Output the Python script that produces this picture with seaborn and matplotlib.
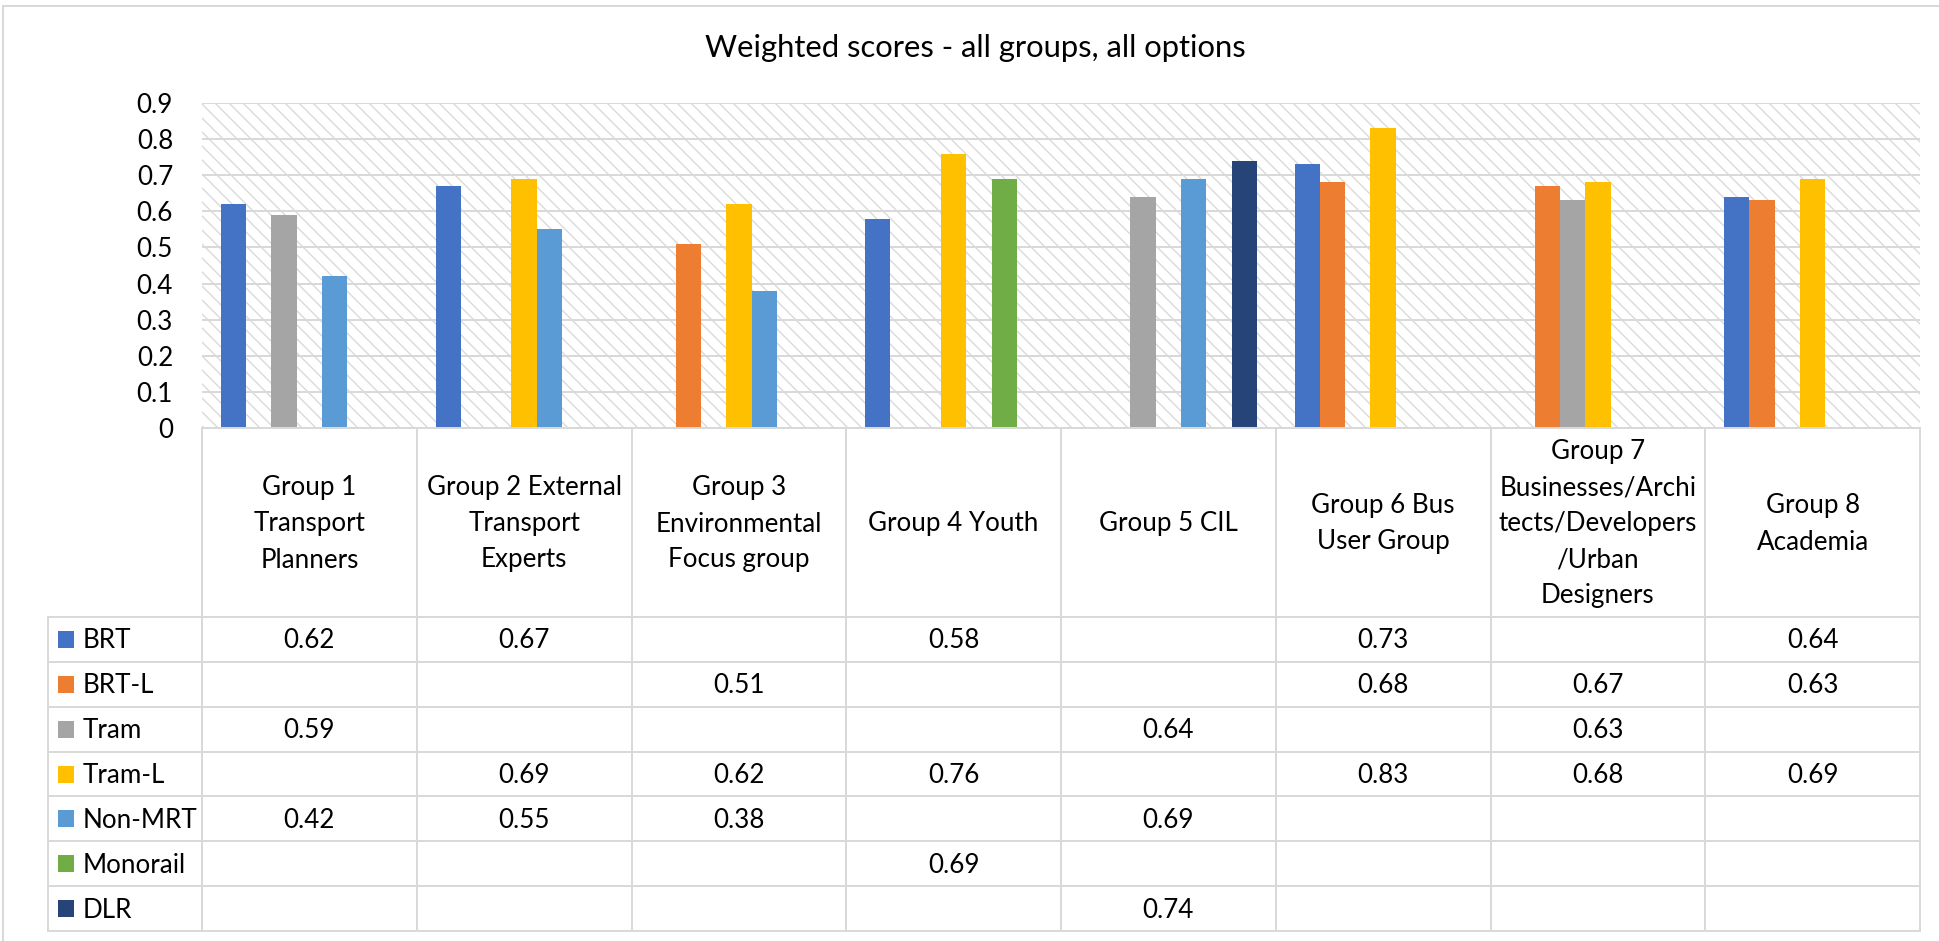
import matplotlib
matplotlib.use("Agg")
import numpy as np
import pandas as pd
import matplotlib.pyplot as plt
from matplotlib.patches import Rectangle
from matplotlib.lines import Line2D
import seaborn as sns

# ---- data -------------------------------------------------------------
groups = [
    "Group 1\nTransport\nPlanners",
    "Group 2 External\nTransport\nExperts",
    "Group 3\nEnvironmental\nFocus group",
    "Group 4 Youth",
    "Group 5 CIL",
    "Group 6 Bus\nUser Group",
    "Group 7\nBusinesses/Archi\ntects/Developers\n/Urban\nDesigners",
    "Group 8\nAcademia",
]
options = ["BRT", "BRT-L", "Tram", "Tram-L", "Non-MRT", "Monorail", "DLR"]

brt      = [0.62, 0.67, None, 0.58, None, 0.73, None, 0.64]
brt_l    = [None, None, 0.51, None, None, 0.68, 0.67, 0.63]
tram     = [0.59, None, None, None, 0.64, None, 0.63, None]
tram_l   = [None, 0.69, 0.62, 0.76, None, 0.83, 0.68, 0.69]
non_mrt  = [0.42, 0.55, 0.38, None, 0.69, None, None, None]
monorail = [None, None, None, 0.69, None, None, None, None]
dlr      = [None, None, None, None, 0.74, None, None, None]

colors = ["#4472C4", "#ED7D31", "#A5A5A5", "#FFC000", "#5B9BD5", "#70AD47", "#264478"]
y_ticks = [0, 0.1, 0.2, 0.3, 0.4, 0.5, 0.6, 0.7, 0.8, 0.9]
title = "Weighted scores - all groups, all options"

series = [brt, brt_l, tram, tram_l, non_mrt, monorail, dlr]
records = []
for opt, vals in zip(options, series):
    for grp, v in zip(groups, vals):
        if v is not None:
            records.append({"group": grp, "option": opt, "score": v})
df = pd.DataFrame(records)

# ---- figure geometry (pixel based) -----------------------------------
W, H, DPI = 1939, 941, 84


def pt(px):
    return px * 72.0 / DPI


sns.set_theme(style="white")
plt.rcParams["font.family"] = ["Lato", "DejaVu Sans"]
plt.rcParams["hatch.linewidth"] = pt(1.4)

GRID = "#d9d9d9"
fig = plt.figure(figsize=(W / DPI, H / DPI), dpi=DPI)

PL, PR, PT, PB = 202, 1920, 103, 428          # plot area edges
TB = 931                                     # table bottom
HEAD = 189                                   # header row height
ROW = (TB - PB - HEAD) / len(options)        # data row height
LEFT = 48                                    # table left edge

ax = fig.add_axes([PL / W, 1 - PB / H, (PR - PL) / W, (PB - PT) / H])

# hatched plot background
bg = Rectangle((0, 0), 1, 1, transform=ax.transAxes, facecolor="white",
               edgecolor="#dadada", lw=0, hatch="\\\\", zorder=0.1)
ax.add_patch(bg)
ax.set_facecolor("white")

sns.barplot(data=df, x="group", y="score", hue="option", order=groups,
            hue_order=options, palette=colors, width=7 / 8.5, dodge=True,
            errorbar=None, saturation=1, linewidth=0, legend=False, ax=ax,
            zorder=2)

ax.set_xlim(-0.5, len(groups) - 0.5)
ax.set_ylim(0, 0.9)
ax.set_yticks(y_ticks)
ax.set_yticklabels([f"{v:g}" for v in y_ticks], fontsize=pt(26), color="black")
ax.tick_params(axis="y", length=0, pad=pt(29))
ax.set_xticks([])
ax.set_xlabel("")
ax.set_ylabel("")
for s in ax.spines.values():
    s.set_visible(False)
ax.yaxis.grid(True, color=GRID, lw=pt(2))
ax.xaxis.grid(False)
ax.set_axisbelow(True)

# ---- data table ------------------------------------------------------
unit = (PR - PL) / len(groups)
x_left = -0.5 - (PL - LEFT) / unit
tab = fig.add_axes([LEFT / W, 1 - TB / H, (PR - LEFT) / W, (TB - PB) / H])
tab.set_xlim(x_left, len(groups) - 0.5)
tab.set_ylim(TB - PB, 0)
tab.axis("off")

lw = pt(2)
line_kw = dict(color=GRID, lw=lw, clip_on=False, solid_capstyle="projecting")
tab.plot([-0.5, len(groups) - 0.5], [0, 0], **line_kw)
for k in range(len(options) + 1):
    y = HEAD + k * ROW
    tab.plot([x_left, len(groups) - 0.5], [y, y], **line_kw)
for i in range(len(groups) + 1):
    tab.plot([i - 0.5, i - 0.5], [0, TB - PB], **line_kw)
tab.plot([x_left, x_left], [HEAD, TB - PB], **line_kw)

fs = pt(26)
line_gap = 36
for i, g in enumerate(groups):
    lines = g.split("\n")
    n = len(lines)
    for j, ln in enumerate(lines):
        yc = HEAD / 2 + (j - (n - 1) / 2) * line_gap
        tab.text(i, yc + 9, ln, ha="center", va="baseline", fontsize=fs,
                 color="black")

for r, (opt, vals, c) in enumerate(zip(options, series, colors)):
    yc = HEAD + r * ROW + ROW / 2
    tab.add_patch(Rectangle((x_left + 10 / unit, yc - 8.5), 16 / unit, 17,
                            facecolor=c, edgecolor="none", clip_on=False))
    tab.text(x_left + 35 / unit, yc + 9, opt, ha="left", va="baseline",
             fontsize=fs, color="black")
    for i, v in enumerate(vals):
        if v is not None:
            tab.text(i, yc + 9, f"{v:.2f}", ha="center", va="baseline",
                     fontsize=fs, color="black")

# ---- title and chart border ------------------------------------------
fig.text(975 / W, 1 - 57 / H, title, ha="center", va="baseline",
         fontsize=pt(31), color="black")
fig.add_artist(Line2D([3 / W, 3 / W], [0, 1 - 6 / H], color=GRID, lw=lw,
                      transform=fig.transFigure))
fig.add_artist(Line2D([3 / W, 1], [1 - 6 / H, 1 - 6 / H], color=GRID, lw=lw,
                      transform=fig.transFigure))

fig.savefig("out.png", dpi=DPI, facecolor="white")
